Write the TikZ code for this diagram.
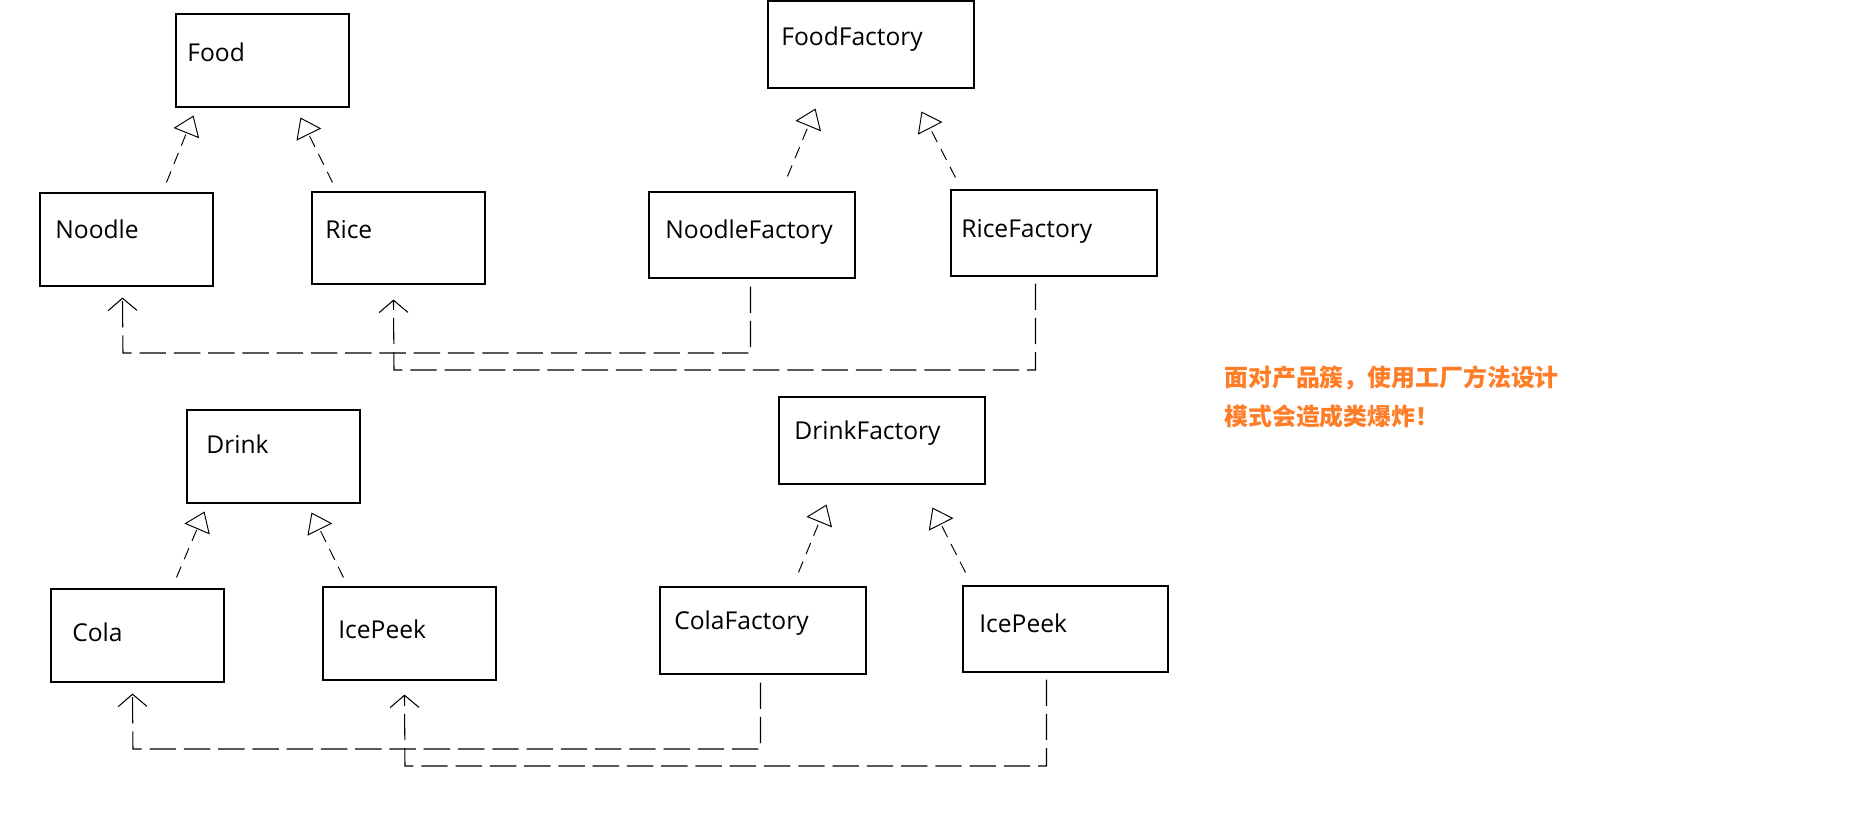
\documentclass[tikz,border=0pt]{standalone}
\usepackage{fontspec}
\setmainfont{Open Sans}
\newfontfamily\cjk{Noto Sans CJK SC}
\usetikzlibrary{arrows.meta,calc,fit}
\definecolor{warn}{RGB}{255,125,39}
\begin{document}
\begin{tikzpicture}[x=0.02cm,y=-0.02cm,
  cls/.style={draw,line width=0.6pt,inner sep=0pt},
  txt/.style={anchor=base west,inner sep=0pt,font=\fontsize{14}{16}\selectfont},
  inh/.style={line width=0.55pt,dash pattern=on 6.8pt off 4.5pt,-{Triangle[open,length=10.8pt,width=15.6pt]}},
  dep/.style={line width=0.6pt,dash pattern=on 15pt off 4.5pt,-{Straight Barb[length=7pt,width=16.4pt]}},
  note/.style={anchor=base west,inner sep=0pt,text=warn,font=\cjk\bfseries\fontsize{13.6}{16}\selectfont}]
\useasboundingbox (0,0) rectangle (1852,828);

% classes
\node[cls,fit={(176,14) (349,107)}] (food) {};
\node[cls,fit={(40,193) (213,286)}] (noodle) {};
\node[cls,fit={(312,192) (485,284)}] (rice) {};
\node[cls,fit={(768,1) (974,88)}] (ff) {};
\node[cls,fit={(649,192) (855,278)}] (nf) {};
\node[cls,fit={(951,190) (1157,276)}] (rf) {};
\node[cls,fit={(187,410) (360,503)}] (drink) {};
\node[cls,fit={(51,589) (224,682)}] (cola) {};
\node[cls,fit={(323,587) (496,680)}] (ice) {};
\node[cls,fit={(779,397) (985,484)}] (df) {};
\node[cls,fit={(660,587) (866,674)}] (cf) {};
\node[cls,fit={(963,586) (1168,672)}] (if) {};

% labels
\node[txt] (foodt) at (187,62) {Food};
\node[txt] (noodlet) at (55,238) {Noodle};
\node[txt] (ricet) at (325,238) {Rice};
\node[txt] (fft) at (781,46) {FoodFactory};
\node[txt] (nft) at (665,238) {NoodleFactory};
\node[txt] (rft) at (961,237) {RiceFactory};
\node[txt] (drinkt) at (206,453) {Drink};
\node[txt] (colat) at (72,641) {Cola};
\node[txt] (icet) at (338,638) {IcePeek};
\node[txt] (dft) at (794,439) {DrinkFactory};
\node[txt] (cft) at (674,629) {ColaFactory};
\node[txt] (ift) at (979,632) {IcePeek};

% inheritance
\draw[inh] ($(noodle.north west)+(127,-10)$) -- ($(food.south west)+(18,8)$);
\draw[inh] ($(rice.north west)+(21,-9)$) -- ($(food.south west)+(125,10)$);
\draw[inh] ($(nf.north west)+(139,-15)$) -- ($(ff.south west)+(48,20)$);
\draw[inh] ($(rf.north west)+(5,-12)$) -- ($(ff.south west)+(154,23)$);
\draw[inh] ($(cola.north west)+(126,-11)$) -- ($(drink.south west)+(18,8)$);
\draw[inh] ($(ice.north west)+(21,-9)$) -- ($(drink.south west)+(125,9)$);
\draw[inh] ($(cf.north west)+(139,-14)$) -- ($(df.south west)+(48,20)$);
\draw[inh] ($(if.north west)+(3,-13)$) -- ($(df.south west)+(154,23)$);

% dependencies
\coordinate (b1) at (123,353);
\coordinate (b2) at (394,370);
\coordinate (b3) at (133,749);
\coordinate (b4) at (405,766);
\draw[dep] ($(nf.south west)+(102,8)$) |- (b1) -- ($(noodle.south west)+(83,11)$);
\draw[dep] ($(rf.south west)+(85,7)$) |- (b2) -- ($(rice.south west)+(82,15)$);
\draw[dep] ($(cf.south west)+(101,8)$) |- (b3) -- ($(cola.south west)+(82,11)$);
\draw[dep] ($(if.south west)+(84,7)$) |- (b4) -- ($(ice.south west)+(82,14)$);

% note
\node[note] (note1) at (1224,386) {面对产品簇，使用工厂方法设计};
\node[note] (note2) at (1224,425) {模式会造成类爆炸！};
\end{tikzpicture}
\end{document}
